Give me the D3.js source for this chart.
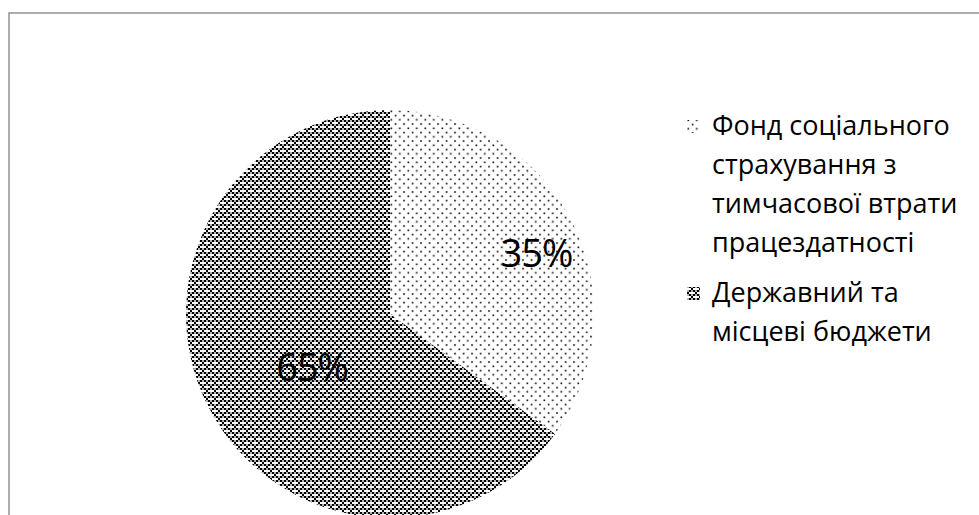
<!DOCTYPE html>
<html>
<head>
<meta charset="utf-8">
<script src="https://cdn.jsdelivr.net/npm/d3@7/dist/d3.min.js"></script>
<style>
  html, body { margin: 0; padding: 0; background: #fff; }
  svg { display: block; }
  text { font-family: "Open Sans", "DejaVu Sans", sans-serif; fill: #000; }
</style>
</head>
<body>
<svg id="chart" width="979" height="515"></svg>
<script>
// Funding sources (share of total, %)
const categories = [
  "Фонд соціального страхування з тимчасової втрати працездатності",
  "Державний та місцеві бюджети"
];
const legendLines = [
  ["Фонд соціального", "страхування з", "тимчасової втрати", "працездатності"],
  ["Державний та", "місцеві бюджети"]
];
const values = [35, 65];
const valueLabels = ["35%", "65%"];

const W = 979, H = 515;
const svg = d3.select("#chart");
const defs = svg.append("defs");

// Fine staggered dot fill
const dots = defs.append("pattern")
  .attr("id", "fill-dots")
  .attr("patternUnits", "userSpaceOnUse")
  .attr("width", 8.5).attr("height", 8.5);
dots.append("rect").attr("width", 8.5).attr("height", 8.5).attr("fill", "#fff");
dots.append("rect").attr("x", 0.5).attr("y", 0.5).attr("width", 1.6).attr("height", 1.6).attr("fill", "#000");
dots.append("rect").attr("x", 4.75).attr("y", 4.75).attr("width", 1.6).attr("height", 1.6).attr("fill", "#000");

// Dense checker fill with periodic white openings
const checker = defs.append("pattern")
  .attr("id", "fill-checker")
  .attr("patternUnits", "userSpaceOnUse")
  .attr("width", 8).attr("height", 8);
checker.append("rect").attr("width", 8).attr("height", 8).attr("fill", "#fff");
for (let i = 0; i < 4; i++) {
  for (let j = 0; j < 4; j++) {
    const even = (i + j) % 2 === 0;
    if (even) {
      if ((i === 0 && j === 0) || (i === 2 && j === 2)) continue;
      checker.append("rect")
        .attr("x", i * 2).attr("y", j * 2)
        .attr("width", 2).attr("height", 2)
        .attr("fill", "#000");
    } else if (j % 2 === 1) {
      checker.append("rect")
        .attr("x", i * 2).attr("y", j * 2 + 0.5)
        .attr("width", 2).attr("height", 1)
        .attr("fill", "#666");
    }
  }
}

const fills = ["url(#fill-dots)", "url(#fill-checker)"];

// Chart area frame
svg.append("rect")
  .attr("x", 9).attr("y", 13)
  .attr("width", W + 10).attr("height", H + 10)
  .attr("fill", "none")
  .attr("stroke", "#8a8a8a")
  .attr("stroke-width", 1.4);

// Pie
const cx = 390, cy = 314, r = 204;
const pie = d3.pie().sort(null).value(d => d)(values);
const arc = d3.arc().innerRadius(0).outerRadius(r);
const g = svg.append("g").attr("transform", `translate(${cx},${cy})`);

g.selectAll("path.slice")
  .data(pie)
  .join("path")
  .attr("class", "slice")
  .attr("d", arc)
  .attr("fill", (d, i) => fills[i]);

// Percentage labels: radius fraction and angular nudge (radians) per slice
const labelRadius = [0.78, 0.46];
const labelTurn = [0.07, -0.12];
g.selectAll("text.pct")
  .data(pie)
  .join("text")
  .attr("class", "pct")
  .attr("transform", (d, i) => {
    const a = (d.startAngle + d.endAngle) / 2 + labelTurn[i];
    const rr = r * labelRadius[i];
    return `translate(${rr * Math.sin(a)},${-rr * Math.cos(a)})`;
  })
  .attr("text-anchor", "middle")
  .attr("dominant-baseline", "central")
  .attr("font-size", 38)
  .attr("letter-spacing", -1)
  .text((d, i) => valueLabels[i]);

// Legend
const legend = svg.append("g").attr("transform", "translate(687,0)");
const lineH = 39;
const entryTop = [135, 302];
legendLines.forEach((lines, i) => {
  const base = entryTop[i];
  legend.append("rect")
    .attr("x", 0).attr("y", base - 15)
    .attr("width", 13).attr("height", 13)
    .attr("fill", fills[i]);
  legend.append("text")
    .attr("x", 25).attr("y", base)
    .attr("font-size", 27)
    .selectAll("tspan")
    .data(lines)
    .join("tspan")
    .attr("x", 25)
    .attr("dy", (d, k) => k === 0 ? 0 : lineH)
    .text(d => d);
});
</script>
</body>
</html>
